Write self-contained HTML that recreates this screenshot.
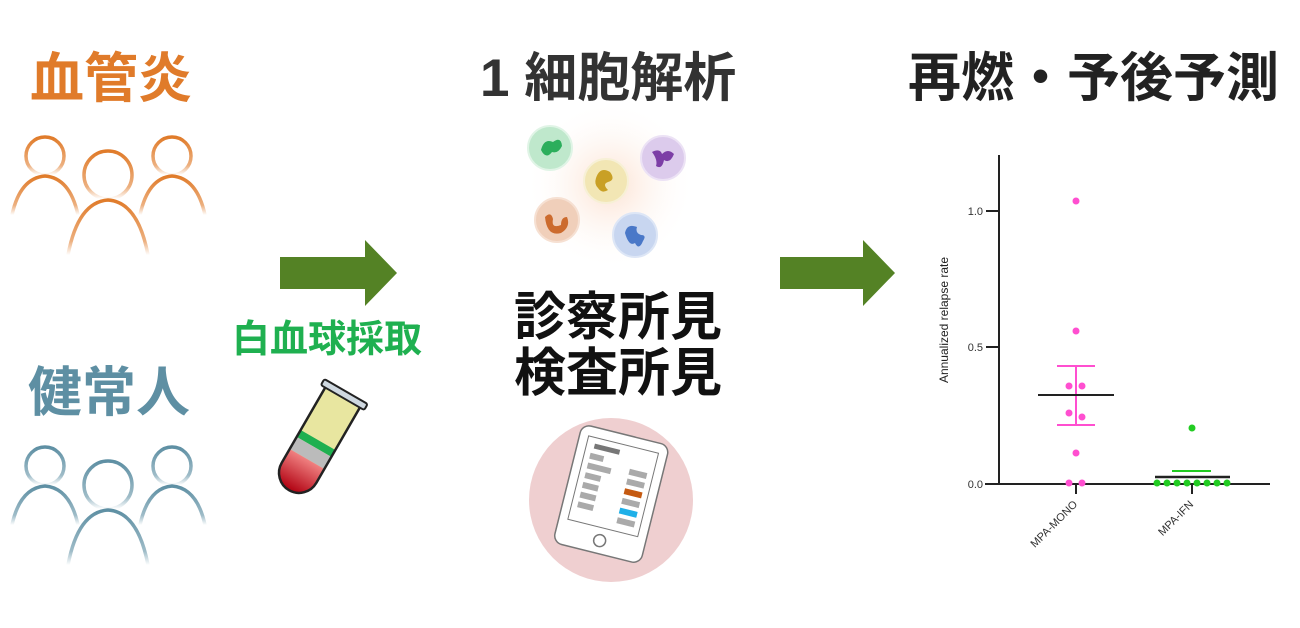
<!DOCTYPE html>
<html><head><meta charset="utf-8"><style>
body{margin:0;width:1300px;height:628px;background:#fff;overflow:hidden;position:relative;font-family:"Liberation Sans","Noto Sans CJK JP",sans-serif}
.t{position:absolute;font-weight:bold;white-space:nowrap;line-height:1}
</style></head><body>
<div class="t" style="left:30px;top:52px;font-size:54px;color:#e07b2a">血管炎</div>
<div class="t" style="left:28px;top:366px;font-size:54px;color:#5e8fa3">健常人</div>
<div class="t" style="left:480px;top:52px;font-size:53px;color:#333">1 細胞解析</div>
<div class="t" style="left:908px;top:52px;font-size:53px;color:#222">再燃・予後予測</div>
<div class="t" style="left:232px;top:321px;font-size:38px;color:#1fb050">白血球採取</div>
<div class="t" style="left:514px;top:292px;font-size:52px;color:#111">診察所見</div>
<div class="t" style="left:514px;top:348px;font-size:52px;color:#111">検査所見</div>
<svg width="1300" height="628" style="position:absolute;left:0;top:0">
<defs>
<linearGradient id="fo" x1="0" y1="0" x2="0" y2="1"><stop offset="0" stop-color="#e07b2a"/><stop offset="0.75" stop-color="#e07b2a" stop-opacity="0.6"/><stop offset="1" stop-color="#e07b2a" stop-opacity="0"/></linearGradient>
<linearGradient id="fb" x1="0" y1="0" x2="0" y2="1"><stop offset="0" stop-color="#5e8fa3"/><stop offset="0.75" stop-color="#5e8fa3" stop-opacity="0.6"/><stop offset="1" stop-color="#5e8fa3" stop-opacity="0"/></linearGradient>
<radialGradient id="glow"><stop offset="0" stop-color="#fbd9c4" stop-opacity="0.8"/><stop offset="1" stop-color="#fff" stop-opacity="0"/></radialGradient>
<linearGradient id="blood" x1="0" y1="0" x2="0" y2="1"><stop offset="0" stop-color="#f08080"/><stop offset="1" stop-color="#b00010"/></linearGradient>
</defs>
<g fill="none" stroke-width="3.5">
<g stroke="url(#fo)">
<circle cx="45" cy="156" r="19"/><path d="M12 215 Q20 178 45 176 Q70 178 78 215"/>
<circle cx="108" cy="175" r="24"/><path d="M68 255 Q78 202 108 200 Q138 202 148 255"/>
<circle cx="172" cy="156" r="19"/><path d="M140 215 Q148 178 172 176 Q197 178 205 215"/>
</g>
<g stroke="url(#fb)" transform="translate(0,310)">
<circle cx="45" cy="156" r="19"/><path d="M12 215 Q20 178 45 176 Q70 178 78 215"/>
<circle cx="108" cy="175" r="24"/><path d="M68 255 Q78 202 108 200 Q138 202 148 255"/>
<circle cx="172" cy="156" r="19"/><path d="M140 215 Q148 178 172 176 Q197 178 205 215"/>
</g>
</g>
<polygon points="280,257 365,257 365,240 397,273 365,306 365,289 280,289" fill="#548225"/>
<polygon points="780,257 863,257 863,240 895,273 863,306 863,289 780,289" fill="#548225"/>
<g transform="translate(318,440) rotate(30)">
<path d="M-20,-50 L-20,38 A20 20 0 0 0 20,38 L20,-50 Z" fill="#e8e6a0"/>
<rect x="-20" y="0" width="40" height="8" fill="#1fb050"/>
<rect x="-20" y="8" width="40" height="14" fill="#bbb"/>
<path d="M-20,22 L-20,38 A20 20 0 0 0 20,38 L20,22 Z" fill="url(#blood)"/>
<path d="M-20,-50 L-20,38 A20 20 0 0 0 20,38 L20,-50" fill="none" stroke="#222" stroke-width="2.5"/>
<rect x="-25" y="-56" width="50" height="7" rx="2" fill="#cfd8e0" stroke="#222" stroke-width="2"/>
</g>
<circle cx="610" cy="185" r="85" fill="url(#glow)"/>
<g>
<circle cx="550" cy="148" r="22" fill="#bfe8cc" stroke="#e0f4e6" stroke-width="2"/><path d="M541 150 q3 -12 12 -8 q8 -6 9 4 q-4 8 -10 6 q-6 8 -11 -2z" fill="#2cae5c"/>
<circle cx="663" cy="158" r="22" fill="#dccbec" stroke="#ece2f5" stroke-width="2"/><path d="M652 152 q8 -4 10 2 q6 -6 12 0 q-4 10 -10 6 q-2 10 -8 6 q2 -6 -4 -14z" fill="#7c3ea6"/>
<circle cx="606" cy="181" r="22" fill="#f2e6b4" stroke="#f7f0d6" stroke-width="2"/><path d="M596 178 q4 -12 14 -6 q6 8 -2 10 q-6 2 0 8 q-6 4 -10 -2 q-4 -4 -2 -10z" fill="#c9a025"/>
<circle cx="557" cy="220" r="22" fill="#f0cfba" stroke="#f6e0d2" stroke-width="2"/><path d="M545 217 q6 -6 8 2 q-2 10 8 6 q0 -8 6 -8 q4 10 -6 16 q-14 4 -16 -16z" fill="#cc6b2e"/>
<circle cx="635" cy="235" r="22" fill="#c8d6f0" stroke="#dde6f6" stroke-width="2"/><path d="M625 233 q2 -10 12 -6 q-2 6 4 8 q6 0 2 6 q-4 10 -8 2 q-6 4 -10 -10z" fill="#4a78c8"/>
</g>
<circle cx="611" cy="500" r="82" fill="#efcfd0"/>
<g transform="translate(611,495) rotate(14)">
<rect x="-45" y="-62" width="90" height="122" rx="9" fill="#fff" stroke="#777" stroke-width="1.5"/>
<rect x="-36" y="-52" width="72" height="86" fill="#fff" stroke="#777" stroke-width="1"/>
<circle cx="0" cy="47" r="6" fill="none" stroke="#777" stroke-width="1.5"/>
<rect x="-28" y="-46" width="26" height="5" fill="#777"/>
<g fill="#aaa"><rect x="-30" y="-36" width="14" height="6"/><rect x="-30" y="-26" width="24" height="6"/><rect x="-30" y="-16" width="16" height="6"/><rect x="-30" y="-6" width="16" height="6"/><rect x="-30" y="4" width="16" height="6"/><rect x="-30" y="14" width="16" height="6"/>
<rect x="12" y="-30" width="18" height="6"/><rect x="12" y="-20" width="18" height="6"/><rect x="12" y="0" width="18" height="6"/><rect x="12" y="20" width="18" height="6"/></g>
<rect x="12" y="-10" width="18" height="6" fill="#c55a11"/><rect x="12" y="10" width="18" height="6" fill="#1fb0e8"/>
</g>
<g font-family="Liberation Sans,sans-serif" font-size="11" fill="#333">
<line x1="999" y1="155" x2="999" y2="484" stroke="#222" stroke-width="2"/>
<line x1="985" y1="484" x2="1270" y2="484" stroke="#222" stroke-width="2"/>
<line x1="986" y1="211" x2="999" y2="211" stroke="#222" stroke-width="2"/>
<line x1="986" y1="347" x2="999" y2="347" stroke="#222" stroke-width="2"/>
<line x1="1076" y1="484" x2="1076" y2="494" stroke="#222" stroke-width="2"/>
<line x1="1192" y1="484" x2="1192" y2="494" stroke="#222" stroke-width="2"/>
<text x="983" y="215" text-anchor="end">1.0</text>
<text x="983" y="351" text-anchor="end">0.5</text>
<text x="983" y="488" text-anchor="end">0.0</text>
<text transform="translate(948,320) rotate(-90)" text-anchor="middle" font-size="12" fill="#222">Annualized relapse rate</text>
<text transform="translate(1078,505) rotate(-45)" text-anchor="end" font-size="11">MPA-MONO</text>
<text transform="translate(1194,505) rotate(-45)" text-anchor="end" font-size="11">MPA-IFN</text>
<g fill="#ff4fd0"><circle cx="1076" cy="201" r="3.5"/><circle cx="1076" cy="331" r="3.5"/><circle cx="1069" cy="386" r="3.5"/><circle cx="1082" cy="386" r="3.5"/><circle cx="1069" cy="413" r="3.5"/><circle cx="1082" cy="417" r="3.5"/><circle cx="1076" cy="453" r="3.5"/><circle cx="1069" cy="483" r="3.5"/><circle cx="1082" cy="483" r="3.5"/></g>
<g stroke="#ff4fd0" stroke-width="2"><line x1="1057" y1="366" x2="1095" y2="366"/><line x1="1057" y1="425" x2="1095" y2="425"/><line x1="1076" y1="366" x2="1076" y2="425"/></g>
<line x1="1038" y1="395" x2="1114" y2="395" stroke="#222" stroke-width="2"/>
<g fill="#22cc22"><circle cx="1192" cy="428" r="3.5"/><circle cx="1157" cy="483" r="3.5"/><circle cx="1167" cy="483" r="3.5"/><circle cx="1177" cy="483" r="3.5"/><circle cx="1187" cy="483" r="3.5"/><circle cx="1197" cy="483" r="3.5"/><circle cx="1207" cy="483" r="3.5"/><circle cx="1217" cy="483" r="3.5"/><circle cx="1227" cy="483" r="3.5"/></g>
<line x1="1172" y1="471" x2="1211" y2="471" stroke="#22cc22" stroke-width="2"/>
<line x1="1155" y1="477" x2="1230" y2="477" stroke="#222" stroke-width="2.5"/>
</g>
</svg>
</body></html>
